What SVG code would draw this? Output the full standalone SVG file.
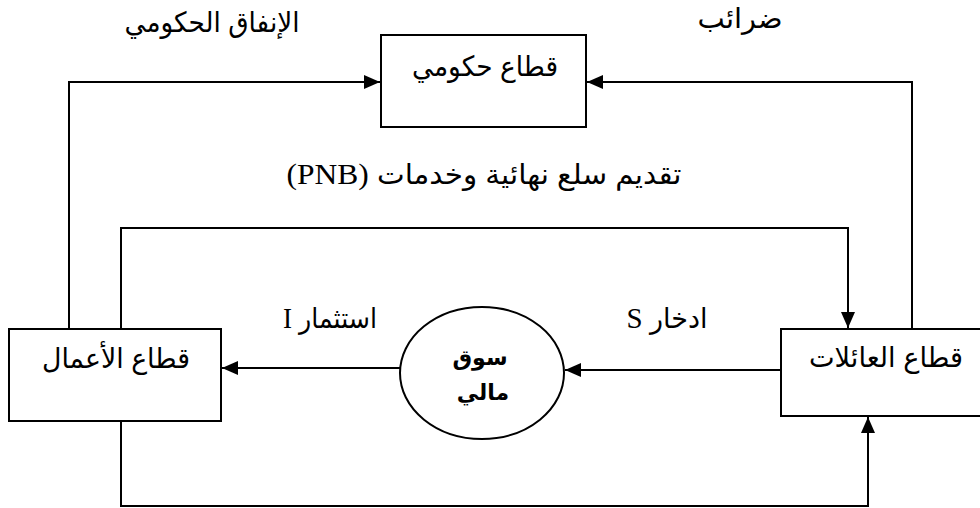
<svg xmlns="http://www.w3.org/2000/svg" width="980" height="508" viewBox="0 0 980 508">
<style>
.box{fill:#fff;stroke:#000;stroke-width:2}
.ar{font-family:"Liberation Sans","DejaVu Sans",sans-serif;font-size:28px;fill:#000}
.b{font-weight:bold;font-size:22px}
.lat{font-family:"Liberation Serif",serif;font-size:30px}
.con{fill:none;stroke:#000;stroke-width:2}
</style>
<defs>
<marker id="ah" markerUnits="userSpaceOnUse" markerWidth="16" markerHeight="14" refX="16" refY="7" orient="auto">
<path d="M0,0 L16,7 L0,14 z" fill="#000"/>
</marker>
</defs>
<rect width="980" height="508" fill="#fff"/>
<g id="connectors">
<path class="con" d="M69,329 V82 H380" marker-end="url(#ah)"/>
<path class="con" d="M912,329 V82 H587" marker-end="url(#ah)"/>
<path class="con" d="M121,329 V228 H848 V328" marker-end="url(#ah)"/>
<path class="con" d="M121,421 V506 H868 V417" marker-end="url(#ah)"/>
<path class="con" d="M781,370 H565" marker-end="url(#ah)"/>
<path class="con" d="M400,368 H222" marker-end="url(#ah)"/>
</g>
<g id="gov">
<rect class="box" x="381" y="35" width="205" height="92"/>
<text class="ar" x="485" y="76" text-anchor="middle" direction="rtl" textLength="146" lengthAdjust="spacingAndGlyphs">قطاع حكومي</text>
</g>
<g id="business">
<rect class="box" x="9" y="329" width="212" height="92"/>
<text class="ar" x="116" y="368" text-anchor="middle" direction="rtl" textLength="148" lengthAdjust="spacingAndGlyphs">قطاع الأعمال</text>
</g>
<g id="households">
<rect class="box" x="781" y="329" width="210" height="87"/>
<text class="ar" x="886" y="367" text-anchor="middle" direction="rtl" textLength="154" lengthAdjust="spacingAndGlyphs">قطاع العائلات</text>
</g>
<g id="market">
<ellipse class="box" cx="482" cy="373" rx="82" ry="66"/>
<text class="ar b" x="480" y="365" text-anchor="middle" direction="rtl">سوق</text>
<text class="ar b" x="483" y="400" text-anchor="middle" direction="rtl">مالي</text>
</g>
<g id="labels">
<text class="ar" x="212" y="32" text-anchor="middle" direction="rtl" textLength="175" lengthAdjust="spacingAndGlyphs">الإنفاق الحكومي</text>
<text class="ar" x="740" y="28" text-anchor="middle" direction="rtl" textLength="85" lengthAdjust="spacingAndGlyphs">ضرائب</text>
<text class="ar" x="484" y="184" text-anchor="middle" direction="rtl" textLength="395" lengthAdjust="spacingAndGlyphs">تقديم سلع نهائية وخدمات <tspan class="lat">(PNB)</tspan></text>
<text class="ar" x="330" y="328" text-anchor="middle" direction="rtl" textLength="94" lengthAdjust="spacingAndGlyphs">استثمار <tspan class="lat">I</tspan></text>
<text class="ar" x="667" y="328" text-anchor="middle" direction="rtl" textLength="81" lengthAdjust="spacingAndGlyphs">ادخار <tspan class="lat">S</tspan></text>
</g>
</svg>
